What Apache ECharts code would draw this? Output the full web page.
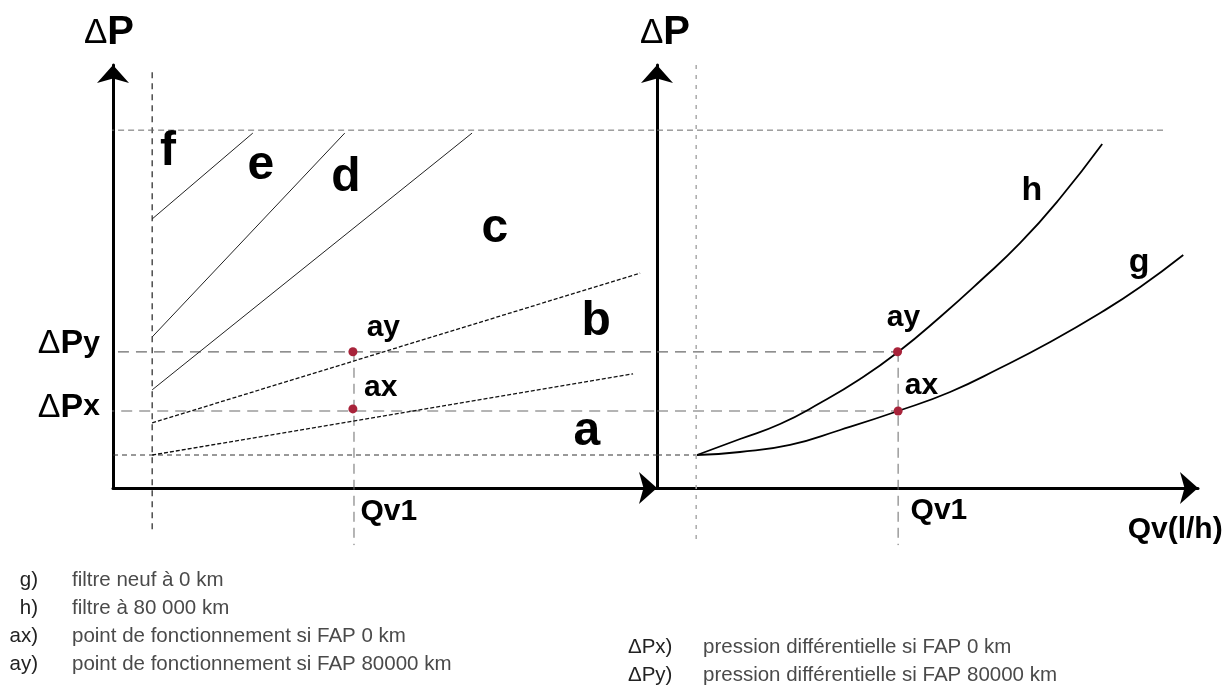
<!DOCTYPE html>
<html><head><meta charset="utf-8">
<script src="https://cdn.jsdelivr.net/npm/echarts@6/dist/echarts.min.js"></script>
<style>html,body{margin:0;padding:0;background:#fff}#c{width:1231px;height:686px}</style>
</head><body><div id="c"></div>
<script>
// ---------------- data (arbitrary units read along the axes) ----------------
const qMin = 7.2;     // start of working range (both panels)
const qv1 = 44.3;     // Qv1
const dP0 = 7.8;      // ΔP at start
const dPx = 18.2;     // ΔPx
const dPy = 32.2;     // ΔPy
const dPmax = 84.6;   // upper limit

// left panel: zone boundaries
const lineA  = [[7.2, 7.8],  [95.6, 27.0]];
const lineB  = [[7.2, 15.4], [96.9, 50.8]];
const lineCD = [[7.2, 23.2], [66.0, 83.9]];
const lineDE = [[7.2, 35.7], [42.6, 83.9]];
const lineEF = [[7.2, 63.6], [25.7, 83.9]];

// right panel: filter curves (h = 80 000 km, g = new filter)
const curveH = [[7.35,7.8],[15.26,11.58],[22.61,15.13],[29.96,20.09],[37.32,25.77],[44.3,32.15],
                [52.02,40.43],[59.38,48.94],[66.73,57.92],[74.08,68.56],[81.8,81.32]];
const curveG = [[7.35,7.8],[15.26,8.51],[24.45,10.17],[33.64,13.71],[44.3,18.2],[53.86,22.7],
                [63.05,28.37],[72.24,34.52],[81.43,41.37],[88.79,47.52],[96.69,55.08]];

// operating points
const pointNames  = ['ay', 'ax'];
const leftPoints  = [[44.1, 32.2], [44.1, 18.7]];
const rightPoints = [[44.2, 32.2], [44.3, 18.2]];

// annotation texts
const regionNames = ['a', 'b', 'c', 'd', 'e', 'f'];
const regionPos   = [[87.1, 13.2], [88.8, 39.2], [70.2, 61.2], [42.8, 73.3], [27.2, 76.1], [10.1, 79.4]];
const leftPtLabelPos  = [[49.7, 37.8], [49.2, 23.6]];
const rightPtLabelPos = [[45.3, 40.2], [48.6, 24.1]];
const curveNames = ['h', 'g'];
const curveLabelPos = [[68.9, 70.4], [88.6, 53.2]];
const dPNames = ['y', 'x'];
const dPLabelPos = [[-2.4, 34.2], [-2.4, 19.1]];
const qvNames = ['Qv1'];
const qvLeftPos = [[50.7, -5.7]];
const qvRightPos = [[51.8, -5.4]];
const axisXName = ['Qv(l/h)'];
const axisXNamePos = [[95.2, -9.9]];

const legendKeys  = ['g)', 'h)', 'ax)', 'ay)'];
const legendTexts = ['filtre neuf à 0 km', 'filtre à 80 000 km',
                     'point de fonctionnement si FAP 0 km', 'point de fonctionnement si FAP 80000 km'];
const legendKeys2  = ['ΔPx)', 'ΔPy)'];
const legendTexts2 = ['pression différentielle si FAP 0 km', 'pression différentielle si FAP 80000 km'];

// ---------------- chart ----------------
const FF = '"Liberation Sans", Arial, Helvetica, sans-serif';
const INK = '#000';

function seg(gi, pts, color, width, dash, z) {
  return { type: 'line', xAxisIndex: gi, yAxisIndex: gi, data: pts, symbol: 'none',
    clip: false, silent: true, animation: false, z: z || 2,
    lineStyle: { color: color, width: width, type: dash } };
}
function curve(gi, pts, color, width) {
  return { type: 'line', xAxisIndex: gi, yAxisIndex: gi, data: pts, symbol: 'none',
    smooth: 0.5, clip: false, silent: true, animation: false, z: 3,
    lineStyle: { color: color, width: width } };
}
function texts(gi, names, pos, label) {
  return { type: 'scatter', xAxisIndex: gi, yAxisIndex: gi, symbolSize: 1, clip: false,
    silent: true, animation: false, z: 6, itemStyle: { color: 'rgba(0,0,0,0)', opacity: 1 },
    data: pos.map((p, i) => ({ value: p, name: names[i] })),
    label: Object.assign({ show: true, position: 'inside', color: INK, fontFamily: FF,
      fontWeight: 'bold', textBorderWidth: 0, formatter: p => p.name }, label) };
}
function dots(gi, pts) {
  return { type: 'scatter', xAxisIndex: gi, yAxisIndex: gi, symbolSize: 9, clip: false,
    silent: true, animation: false, z: 7, itemStyle: { color: '#a8233a', opacity: 1 },
    data: pts.map((p, i) => ({ value: p, name: pointNames[i] })) };
}

const axisLine = {
  show: true, onZero: false, symbol: ['none', 'arrow'], symbolSize: [24, 18], symbolOffset: [0, 0],
  lineStyle: { color: INK, width: 3 }
};
function xAx(gi, max) {
  return { type: 'value', gridIndex: gi, min: 0, max: max, axisLine: axisLine,
    axisTick: { show: false }, axisLabel: { show: false }, splitLine: { show: false } };
}
function yAx(gi, pad) {
  return { type: 'value', gridIndex: gi, min: 0, max: 100, axisLine: axisLine,
    axisTick: { show: false }, axisLabel: { show: false }, splitLine: { show: false },
    name: '{d|Δ}{p|P}', nameLocation: 'end', nameGap: 12,
    nameTextStyle: { padding: pad, rich: {
      d: { fontSize: 35, fontFamily: FF, color: INK },
      p: { fontSize: 40, fontFamily: FF, fontWeight: 'bold', color: INK } } } };
}

const GRAY = '#6b6b6b';
const series = [
  // left panel reference lines
  seg(0, [[qMin, 98.3], [qMin, -10.6]], '#222', 1.2, [6, 5]),
  seg(0, [[-0.9, dPmax], [100, dPmax]], GRAY, 1, [6, 4]),
  seg(0, [[-2.4, dPy], [100, dPy]], GRAY, 1.2, [11, 7]),
  seg(0, [[-1.8, dPx], [100, dPx]], GRAY, 1.2, [11, 7]),
  seg(0, [[0, dP0], [100, dP0]], '#333', 1, [5, 4]),
  seg(0, [[qv1, dPy], [qv1, -13.5]], GRAY, 1, [10, 6]),
  // right panel reference lines
  seg(1, [[0, dPmax], [93.4, dPmax]], GRAY, 1, [6, 4]),
  seg(1, [[0, dPy], [qv1, dPy]], GRAY, 1.2, [11, 7]),
  seg(1, [[0, dPx], [qv1, dPx]], GRAY, 1.2, [11, 7]),
  seg(1, [[0, dP0], [qMin, dP0]], '#333', 1, [5, 4]),
  seg(1, [[qMin, 100], [qMin, -12.3]], '#aaa', 1.5, [4, 6]),
  seg(1, [[qv1, dPy], [qv1, -13.5]], GRAY, 1, [10, 6]),
  // left panel zone lines
  seg(0, lineA, '#111', 1.3, [4, 2], 3),
  seg(0, lineB, '#111', 1.3, [4, 2], 3),
  seg(0, lineCD, '#222', 1, 'solid', 3),
  seg(0, lineDE, '#222', 1, 'solid', 3),
  seg(0, lineEF, '#222', 1, 'solid', 3),
  // right panel curves
  curve(1, curveH, INK, 1.8),
  curve(1, curveG, INK, 1.8),
  // points
  dots(0, leftPoints),
  dots(1, rightPoints),
  // texts
  texts(0, regionNames, regionPos, { fontSize: 48 }),
  texts(0, pointNames, leftPtLabelPos, { fontSize: 30 }),
  texts(1, pointNames, rightPtLabelPos, { fontSize: 30 }),
  texts(1, curveNames, curveLabelPos, { fontSize: 34 }),
  texts(0, qvNames, qvLeftPos, { fontSize: 30 }),
  texts(1, qvNames, qvRightPos, { fontSize: 30 }),
  texts(1, axisXName, axisXNamePos, { fontSize: 30 }),
  texts(0, dPNames, dPLabelPos, { align: 'right',
    formatter: p => '{d|Δ}{p|P}{s|' + p.name + '}',
    rich: { d: { fontSize: 34, fontFamily: FF, color: INK, fontWeight: 'normal' },
            p: { fontSize: 34, fontFamily: FF, color: INK, fontWeight: 'bold' },
            s: { fontSize: 30, fontFamily: FF, color: INK, fontWeight: 'bold' } } })
];

const graphic = [];
legendKeys.forEach((k, i) => {
  const y = 580 + i * 28;
  graphic.push({ type: 'text', x: 38, y: y, silent: true,
    style: { text: k, align: 'right', verticalAlign: 'middle', font: '20.5px ' + FF, fill: '#222' } });
  graphic.push({ type: 'text', x: 72, y: y, silent: true,
    style: { text: legendTexts[i], align: 'left', verticalAlign: 'middle', font: '20.5px ' + FF, fill: '#4a4a4a' } });
});
legendKeys2.forEach((k, i) => {
  const y = 647 + i * 28;
  graphic.push({ type: 'text', x: 628, y: y, silent: true,
    style: { text: k, align: 'left', verticalAlign: 'middle', font: '20.5px ' + FF, fill: '#222' } });
  graphic.push({ type: 'text', x: 703, y: y, silent: true,
    style: { text: legendTexts2[i], align: 'left', verticalAlign: 'middle', font: '20.5px ' + FF, fill: '#4a4a4a' } });
});

const chart = echarts.init(document.getElementById('c'), null, { renderer: 'canvas' });
chart.setOption({
  backgroundColor: '#fff',
  animation: false,
  grid: [
    { left: 113, top: 65, width: 544, height: 423 },
    { left: 657, top: 65, width: 541, height: 423 }
  ],
  xAxis: [xAx(0, 100), xAx(1, 99.4)],
  yAxis: [yAx(0, [0, 8, 0, 0]), yAx(1, [0, 0, 0, 16])],
  series: series,
  graphic: graphic
});
</script></body></html>
